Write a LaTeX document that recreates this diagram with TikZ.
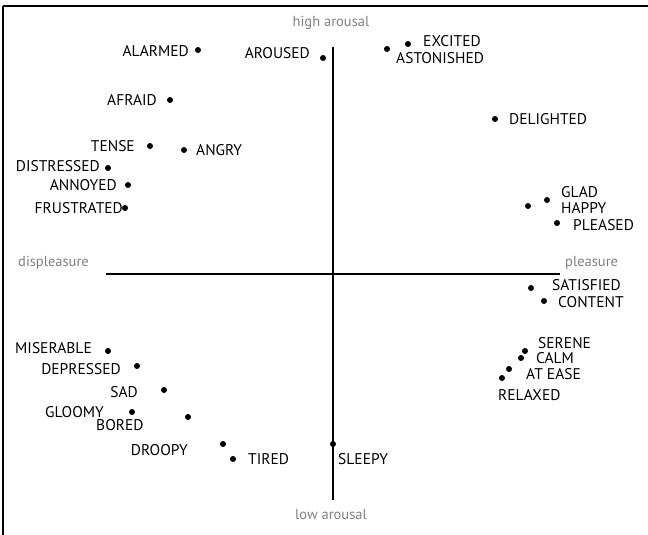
\documentclass[tikz,border=0pt]{standalone}
\usepackage{fontspec}
\setmainfont{PT Sans}
\usetikzlibrary{positioning}

\definecolor{axislabel}{RGB}{128, 128, 128}

\tikzset{
    dot/.style={circle, fill=black, inner sep=0pt, minimum size=6pt},
    mood/.style={inner sep=0pt, font=\fontsize{15.5}{17}\selectfont},
    pole/.style={inner sep=0pt, text=axislabel, font=\fontsize{14.5}{16}\selectfont},
}

\begin{document}
\begin{tikzpicture}[x=1pt, y=-1pt]
    \useasboundingbox (0,0) rectangle (648,535);

    % ==========================================
    % --- Frame (top and left edge only) ---
    % ==========================================
    \draw[line width=2.2pt] (3,6) -- (648,6);
    \draw[line width=1.4pt] (3,6) -- (3,535);

    % ==========================================
    % --- Axes ---
    % ==========================================
    \coordinate (west) at (106,274);
    \coordinate (east) at (560,274);
    \coordinate (north) at (333,47);
    \coordinate (south) at (333,500);
    \draw[line width=2.4pt] (west) -- (east);
    \draw[line width=2.4pt] (north) -- (south);

    % Pole labels
    \node[pole] (high) at (331,23) {high arousal};
    \node[pole] (low) at (331,515) {low arousal};
    \node[pole, anchor=west] (displeasure) at (18,263) {displeasure};
    \node[pole, anchor=west] (pleasure) at (565,263) {pleasure};

    % ==========================================
    % --- Affect words: dot, then label ---
    % ==========================================
    \foreach \n/\x/\y/\a/\lx/\ly/\t in {
        alarmed/198/50/east/189/51/ALARMED,
        aroused/323/58/east/310/53/AROUSED,
        excited/408/44/west/423/41/EXCITED,
        astonished/387/49/west/396/58/ASTONISHED,
        delighted/495/119/west/509/119/DELIGHTED,
        glad/547/200/west/561/192/GLAD,
        happy/528/206/west/561/208/HAPPY,
        pleased/557/223/west/573/225/PLEASED,
        satisfied/531/288/west/552/285/SATISFIED,
        content/544/301/west/558/302/CONTENT,
        serene/525/351/west/538/343/SERENE,
        calm/521/358/west/536/358/CALM,
        atease/509/369/west/526/374/AT EASE,
        relaxed/502/378/west/498/395/RELAXED,
        sleepy/333/444/west/338/459/SLEEPY,
        tired/233/459/west/248/459/TIRED,
        droopy/223/444/east/188/450/DROOPY,
        bored/188/417/west/96/425/BORED,
        gloomy/132/412/east/104/412/GLOOMY,
        sad/164/390/east/138/392/SAD,
        depressed/137/366/east/121/369/DEPRESSED,
        miserable/108/351/east/92/348/MISERABLE,
        afraid/170/100/east/157/100/AFRAID,
        tense/150/146/east/135/146/TENSE,
        angry/184/150/west/196/150/ANGRY,
        distressed/108/168/east/100/166/DISTRESSED,
        annoyed/128/185/east/117/185/ANNOYED,
        frustrated/125/208/east/123/208/FRUSTRATED} {
        \node[dot] (d-\n) at (\x,\y) {};
        \node[mood, anchor=\a] (t-\n) at (\lx,\ly) {\t};
    }

\end{tikzpicture}
\end{document}
